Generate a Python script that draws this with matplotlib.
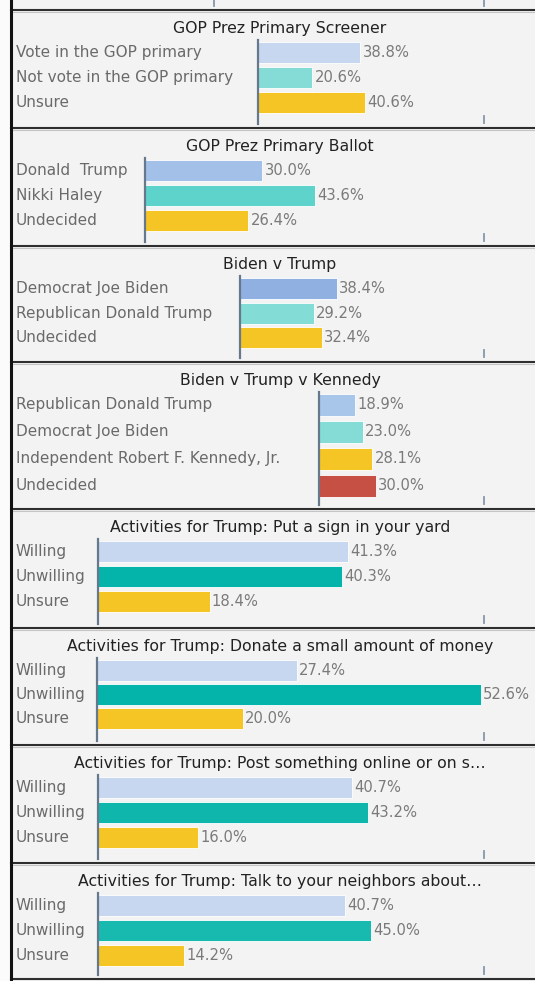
import matplotlib
matplotlib.use("Agg")
import matplotlib.pyplot as plt
from matplotlib import transforms
from matplotlib.lines import Line2D
from matplotlib.patches import Rectangle

# ---------------- data ----------------
p1_title = "GOP Prez Primary Screener"
p1_labels = ["Vote in the GOP primary", "Not vote in the GOP primary", "Unsure"]
p1_values = [38.8, 20.6, 40.6]
p1_colors = ["#c6d7ef", "#85dcd6", "#f5c425"]

p2_title = "GOP Prez Primary Ballot"
p2_labels = ["Donald  Trump", "Nikki Haley", "Undecided"]
p2_values = [30.0, 43.6, 26.4]
p2_colors = ["#a3c0e8", "#5dd3cb", "#f5c425"]

p3_title = "Biden v Trump"
p3_labels = ["Democrat Joe Biden", "Republican Donald Trump", "Undecided"]
p3_values = [38.4, 29.2, 32.4]
p3_colors = ["#8fb0e0", "#84dcd6", "#f5c425"]

p4_title = "Biden v Trump v Kennedy"
p4_labels = ["Republican Donald Trump", "Democrat Joe Biden",
             "Independent Robert F. Kennedy, Jr.", "Undecided"]
p4_values = [18.9, 23.0, 28.1, 30.0]
p4_colors = ["#a8c5ea", "#85dcd6", "#f5c425", "#c65044"]

p5_title = "Activities for Trump: Put a sign in your yard"
p5_labels = ["Willing", "Unwilling", "Unsure"]
p5_values = [41.3, 40.3, 18.4]
p5_colors = ["#c6d7ef", "#04b3a9", "#f5c425"]

p6_title = "Activities for Trump: Donate a small amount of money"
p6_labels = ["Willing", "Unwilling", "Unsure"]
p6_values = [27.4, 52.6, 20.0]
p6_colors = ["#c6d7ef", "#04b3a9", "#f5c425"]

p7_title = "Activities for Trump: Post something online or on s\u2026"
p7_labels = ["Willing", "Unwilling", "Unsure"]
p7_values = [40.7, 43.2, 16.0]
p7_colors = ["#c6d7ef", "#0fb6ac", "#f5c425"]

p8_title = "Activities for Trump: Talk to your neighbors about\u2026"
p8_labels = ["Willing", "Unwilling", "Unsure"]
p8_values = [40.7, 45.0, 14.2]
p8_colors = ["#c6d7ef", "#18bab0", "#f5c425"]

# ---------------- layout (pixels) ----------------
W, H = 535, 981
panel_tops = [10, 128, 246, 362, 509, 627.5, 745, 863]
panel_bottom_last = 979
axis_x = [258, 145, 240, 319, 98, 97.3, 98, 98]
px_per_unit = [2.64, 3.91, 2.52, 1.90, 6.06, 7.29, 6.25, 6.06]
row_spacing = [24.7, 24.7, 24.5, 27.0, 24.7, 24.3, 24.7, 24.7]
tick_x = 484
label_x = 16
title_cx = 280

panels = [
    (p1_title, p1_labels, p1_values, p1_colors),
    (p2_title, p2_labels, p2_values, p2_colors),
    (p3_title, p3_labels, p3_values, p3_colors),
    (p4_title, p4_labels, p4_values, p4_colors),
    (p5_title, p5_labels, p5_values, p5_colors),
    (p6_title, p6_labels, p6_values, p6_colors),
    (p7_title, p7_labels, p7_values, p7_colors),
    (p8_title, p8_labels, p8_values, p8_colors),
]

plt.rcParams["font.family"] = ["DejaVu Sans"]

fig = plt.figure(figsize=(W / 100, H / 100), dpi=100)
fig.patch.set_facecolor("#fbfbfb")


def fx(x):
    return x / W


def fy(y):
    return 1 - y / H


# panel background
fig.patches.append(Rectangle((fx(11), 0), 1, 1, transform=fig.transFigure,
                             facecolor="#f3f3f3", edgecolor="none", zorder=-10))

bottoms = panel_tops[1:] + [panel_bottom_last]

for i, (title, labels, values, colors) in enumerate(panels):
    top = panel_tops[i]
    bot = bottoms[i]
    sp = row_spacing[i]
    r0 = top + 42.8
    ax_top = r0 - 12.5
    ax_bot = bot - 4
    x0 = axis_x[i]
    s = px_per_unit[i]
    xmax = (tick_x - x0) / s
    ax = fig.add_axes([fx(x0), fy(ax_bot), fx(tick_x) - fx(x0), (ax_bot - ax_top) / H])
    ax.set_facecolor("none")
    ax.set_zorder(2)
    n = len(values)
    pos = list(range(n))
    bh = (21.0 if sp < 26 else 22.5) / sp
    ax.barh(pos, values, height=bh, color=colors, edgecolor="#ffffff",
            linewidth=0.6, zorder=2)
    ax.set_xlim(0, xmax)
    ax.set_ylim((ax_bot - r0) / sp, -12.5 / sp)
    for side in ["top", "right", "bottom"]:
        ax.spines[side].set_visible(False)
    ax.spines["left"].set_color("#66788c")
    ax.spines["left"].set_linewidth(1.6)
    ax.set_xticks([])
    ax.set_yticks([])
    for k, v in enumerate(values):
        ax.annotate(f"{v:.1f}%", (v, k), xytext=(1.6, 0), textcoords="offset points",
                    va="center", ha="left", fontsize=10.6, color="#7a7a7a")
    trans = transforms.blended_transform_factory(fig.transFigure, ax.transData)
    for k, lab in enumerate(labels):
        ax.text(fx(label_x), k, lab, transform=trans, va="center", ha="left",
                fontsize=11, color="#6a6a6a", clip_on=False)
    fig.text(fx(title_cx), fy(top + 18.5), title, ha="center", va="center",
             fontsize=11.3, color="#222222")
    # small end tick
    fig.lines.append(Line2D([fx(tick_x), fx(tick_x)], [fy(bot - 12), fy(bot - 5)],
                            transform=fig.transFigure, color="#8797ab", lw=1.3))

# partial previous panel at top
fig.lines.append(Line2D([fx(214), fx(214)], [fy(0), fy(6)], transform=fig.transFigure,
                        color="#8797ab", lw=1.3))
fig.lines.append(Line2D([fx(tick_x), fx(tick_x)], [fy(0), fy(6)], transform=fig.transFigure,
                        color="#8797ab", lw=1.3))

# separators
for y in panel_tops + [panel_bottom_last]:
    fig.lines.append(Line2D([fx(11), 1], [fy(y + 2), fy(y + 2)], transform=fig.transFigure,
                            color="#c4c4c4", lw=0.8))
    fig.lines.append(Line2D([fx(11), 1], [fy(y), fy(y)], transform=fig.transFigure,
                            color="#2e2e2e", lw=1.5))

# left border
fig.lines.append(Line2D([fx(11), fx(11)], [0, 1], transform=fig.transFigure,
                        color="#111111", lw=2.2))

fig.savefig("out.png", dpi=100, facecolor=fig.get_facecolor())
